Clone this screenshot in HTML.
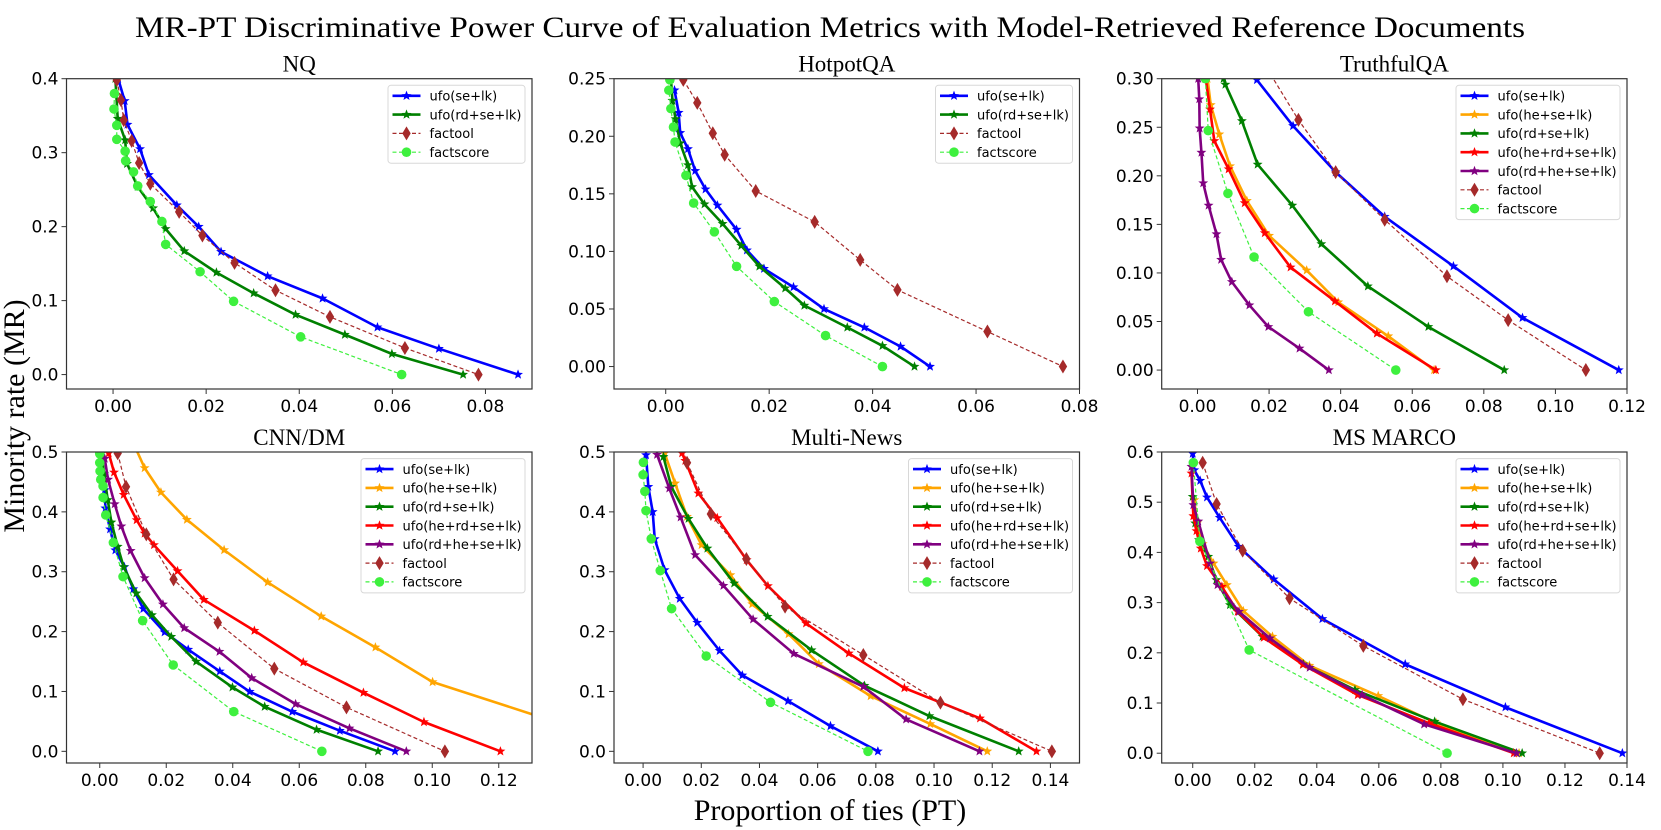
<!DOCTYPE html>
<html><head><meta charset="utf-8">
<style>
html,body{margin:0;padding:0;background:#fff;}
svg{display:block;}
</style></head>
<body>
<svg id="fig" xmlns="http://www.w3.org/2000/svg" width="1661" height="830" viewBox="0 0 1661 830">
<rect x="0" y="0" width="1661" height="830" fill="#fff"/>
<text x="830" y="37" text-anchor="middle" font-family="Liberation Serif, serif" font-size="30" textLength="1390" lengthAdjust="spacingAndGlyphs">MR-PT Discriminative Power Curve of Evaluation Metrics with Model-Retrieved Reference Documents</text>
<text x="0" y="0" transform="translate(24,416) rotate(-90)" text-anchor="middle" font-family="Liberation Serif, serif" font-size="30">Minority rate (MR)</text>
<text x="830" y="820" text-anchor="middle" font-family="Liberation Serif, serif" font-size="30">Proportion of ties (PT)</text>
<g id="panels"></g>
</svg>
<script>
// ---------- data ----------
const seriesNames = ["ufo(se+lk)","ufo(he+se+lk)","ufo(rd+se+lk)","ufo(he+rd+se+lk)","ufo(rd+he+se+lk)","factool","factscore"];
const panelTitles = ["NQ","HotpotQA","TruthfulQA","CNN/DM","Multi-News","MS MARCO"];

// NQ
const nq_se_x = [0.0011,0.0025,0.0031,0.0058,0.0077,0.0137,0.0184,0.0232,0.0332,0.045,0.0568,0.070,0.087];
const nq_se_y = [0.40,0.37,0.338,0.305,0.27,0.229,0.200,0.166,0.133,0.103,0.064,0.035,0];
const nq_rd_x = [0.0005,0.001,0.0026,0.003,0.0053,0.0086,0.0113,0.0153,0.0222,0.0302,0.0392,0.0498,0.0599,0.0752];
const nq_rd_y = [0.40,0.346,0.317,0.285,0.254,0.225,0.197,0.167,0.138,0.110,0.081,0.054,0.028,0];
const nq_ft_x = [0.0008,0.0017,0.0023,0.004,0.0056,0.008,0.0142,0.0192,0.0261,0.0349,0.0466,0.0627,0.0785];
const nq_ft_y = [0.398,0.371,0.344,0.316,0.286,0.258,0.22,0.188,0.151,0.114,0.078,0.036,0];
const nq_fs_x = [0.0003,0.0002,0.0008,0.0008,0.0026,0.0027,0.0044,0.0053,0.008,0.0105,0.0113,0.0187,0.0259,0.0403,0.062];
const nq_fs_y = [0.38,0.359,0.337,0.318,0.302,0.289,0.274,0.255,0.234,0.207,0.176,0.139,0.099,0.051,0];

// HotpotQA
const hp_se_x = [0.0017,0.0025,0.0028,0.0043,0.0057,0.0077,0.01,0.0137,0.0157,0.019,0.0247,0.0306,0.0384,0.0454,0.0511];
const hp_se_y = [0.240,0.2205,0.203,0.189,0.170,0.154,0.140,0.119,0.101,0.085,0.069,0.050,0.034,0.0174,0];
const hp_rd_x = [0.001,0.0013,0.0019,0.0028,0.0043,0.0051,0.0075,0.011,0.0146,0.0181,0.0231,0.0268,0.0351,0.0419,0.0481];
const hp_rd_y = [0.25,0.231,0.215,0.194,0.175,0.156,0.141,0.124,0.105,0.087,0.068,0.053,0.034,0.018,0];
const hp_ft_x = [0.0034,0.0061,0.0091,0.0114,0.0174,0.0288,0.0376,0.0448,0.0622,0.0768];
const hp_ft_y = [0.249,0.229,0.2026,0.184,0.1525,0.1256,0.0926,0.0666,0.0304,0];
const hp_fs_x = [0.0008,0.0006,0.001,0.0015,0.0018,0.0039,0.0054,0.0094,0.0137,0.021,0.0309,0.0419];
const hp_fs_y = [0.249,0.240,0.224,0.208,0.195,0.166,0.142,0.117,0.087,0.0564,0.0269,0];

// TruthfulQA
const tq_se_x = [0.0155,0.0166,0.0267,0.0386,0.0523,0.0715,0.0908,0.1177];
const tq_se_y = [0.31,0.2987,0.2514,0.2038,0.158,0.1069,0.0538,0];
const tq_he_x = [0.0028,0.0037,0.0061,0.0091,0.0138,0.02,0.0305,0.0393,0.0533,0.0661];
const tq_he_y = [0.30,0.273,0.2428,0.210,0.1743,0.1384,0.1027,0.0699,0.0349,0];
const tq_rd_x = [0.0073,0.0078,0.0124,0.0168,0.0265,0.0346,0.0476,0.0645,0.0857];
const tq_rd_y = [0.30,0.294,0.2565,0.2117,0.1695,0.1298,0.0863,0.0445,0];
const tq_herd_x = [0.0023,0.0035,0.0047,0.0087,0.0132,0.0188,0.026,0.0384,0.0501,0.0666];
const tq_herd_y = [0.30,0.2685,0.236,0.2069,0.172,0.1411,0.1058,0.0709,0.0377,0];
const tq_rdhe_x = [0.0002,0.0005,0.0006,0.0011,0.0016,0.0031,0.0053,0.0066,0.0096,0.0145,0.0198,0.0285,0.0367];
const tq_rdhe_y = [0.30,0.279,0.249,0.224,0.1925,0.1695,0.14,0.1137,0.0908,0.0668,0.0445,0.0223,0];
const tq_ft_x = [0.0195,0.0282,0.0386,0.0523,0.0697,0.0868,0.1085];
const tq_ft_y = [0.31,0.2576,0.2038,0.1548,0.0966,0.0514,0];
const tq_fs_x = [0.0022,0.003,0.0085,0.0158,0.031,0.0554];
const tq_fs_y = [0.30,0.2466,0.1819,0.1164,0.06,0];

// CNN/DM
const cd_se_x = [0.0005,0.001,0.0015,0.0017,0.0031,0.0047,0.0074,0.0101,0.0131,0.0195,0.0266,0.0361,0.0451,0.0579,0.0722,0.0888];
const cd_se_y = [0.498,0.464,0.4365,0.406,0.371,0.336,0.308,0.271,0.238,0.199,0.170,0.1336,0.0997,0.0663,0.0345,0];
const cd_he_x = [0.0105,0.0135,0.0184,0.0262,0.0374,0.0505,0.0666,0.0829,0.1001,0.14];
const cd_he_y = [0.51,0.4733,0.4326,0.387,0.3363,0.2823,0.2255,0.1737,0.1158,0.044];
const cd_rd_x = [0.0005,0.0013,0.0024,0.0035,0.0054,0.0072,0.011,0.0157,0.0215,0.029,0.0399,0.0496,0.0652,0.0837];
const cd_rd_y = [0.498,0.464,0.42,0.3825,0.342,0.308,0.264,0.2277,0.1915,0.150,0.107,0.0746,0.0362,0];
const cd_herd_x = [0.0027,0.0043,0.0072,0.0111,0.0135,0.0163,0.0234,0.0313,0.0465,0.0612,0.0793,0.0975,0.1205];
const cd_herd_y = [0.498,0.466,0.4287,0.3864,0.364,0.3447,0.3012,0.2533,0.2016,0.1487,0.098,0.049,0];
const cd_rdhe_x = [0.0015,0.0025,0.0045,0.0065,0.0093,0.0135,0.019,0.0254,0.036,0.0457,0.0589,0.0751,0.0922];
const cd_rdhe_y = [0.489,0.454,0.413,0.376,0.335,0.2895,0.2456,0.206,0.1665,0.1225,0.079,0.0384,0];
const cd_ft_x = [0.0054,0.0079,0.014,0.0222,0.0355,0.0525,0.0742,0.1038];
const cd_ft_y = [0.498,0.442,0.3625,0.2873,0.2149,0.1381,0.0735,0];
const cd_fs_x = [0.0,0.0,0.0001,0.0003,0.001,0.001,0.0018,0.0041,0.007,0.0129,0.0221,0.0403,0.0668];
const cd_fs_y = [0.497,0.482,0.468,0.454,0.443,0.424,0.3948,0.3486,0.2918,0.2183,0.1442,0.0663,0];

// Multi-News
const mn_se_x = [0.001,0.0018,0.0033,0.004,0.0074,0.0126,0.0186,0.0263,0.0341,0.0498,0.0644,0.0807];
const mn_se_y = [0.495,0.442,0.400,0.3547,0.3029,0.255,0.215,0.168,0.127,0.084,0.0423,0];
const mn_he_x = [0.0074,0.011,0.0151,0.0201,0.03,0.0375,0.05,0.0604,0.0782,0.0987,0.1183];
const mn_he_y = [0.498,0.4477,0.392,0.3447,0.2945,0.246,0.196,0.1459,0.0924,0.0457,0];
const mn_rd_x = [0.007,0.0097,0.0156,0.0221,0.0313,0.0428,0.0579,0.0761,0.0984,0.1291];
const mn_rd_y = [0.492,0.442,0.3886,0.339,0.2806,0.225,0.169,0.1097,0.059,0];
const mn_herd_x = [0.0134,0.0145,0.019,0.0255,0.0356,0.0429,0.056,0.0707,0.0898,0.1158,0.1352];
const mn_herd_y = [0.498,0.4855,0.431,0.3898,0.3196,0.2762,0.2138,0.1637,0.1058,0.0551,0];
const mn_rdhe_x = [0.0048,0.009,0.0129,0.0179,0.0276,0.0378,0.0518,0.0757,0.0904,0.1156];
const mn_rdhe_y = [0.4956,0.4393,0.3909,0.328,0.2767,0.2205,0.1631,0.108,0.0535,0];
const mn_ft_x = [0.0151,0.0233,0.0355,0.0488,0.0757,0.1022,0.1405];
const mn_ft_y = [0.482,0.3964,0.3213,0.2417,0.161,0.0813,0];
const mn_fs_x = [0.0001,0.0,0.0006,0.001,0.0028,0.0059,0.0098,0.0217,0.0438,0.0773];
const mn_fs_y = [0.4827,0.462,0.4343,0.402,0.355,0.3018,0.2383,0.1592,0.0818,0];

// MS MARCO
const mm_se_x = [0.0,0.0005,0.0024,0.0046,0.0087,0.0148,0.0261,0.0418,0.0685,0.1008,0.1385];
const mm_se_y = [0.597,0.564,0.543,0.5097,0.4692,0.4115,0.3465,0.2675,0.1772,0.0916,0];
const mm_he_x = [0.0005,0.0014,0.0032,0.0067,0.011,0.0163,0.0257,0.0376,0.0598,0.0785,0.1052];
const mm_he_y = [0.5044,0.458,0.4168,0.3783,0.3352,0.2834,0.2323,0.1746,0.1142,0.0597,0];
const mm_rd_x = [0.0,0.0008,0.002,0.005,0.0076,0.012,0.0225,0.0357,0.0523,0.078,0.1062];
const mm_rd_y = [0.511,0.458,0.4248,0.3916,0.3451,0.2953,0.2323,0.1772,0.1261,0.063,0];
const mm_herd_x = [-0.0004,0.0002,0.0012,0.0026,0.0046,0.0094,0.0145,0.0229,0.0355,0.0532,0.0762,0.1035];
const mm_herd_y = [0.5575,0.4725,0.4427,0.408,0.373,0.3318,0.282,0.2303,0.1765,0.1161,0.0597,0];
const mm_rdhe_x = [-0.0004,0.0002,0.0018,0.0056,0.008,0.0149,0.0249,0.0377,0.0546,0.0746,0.1044];
const mm_rdhe_y = [0.5708,0.4945,0.4619,0.3783,0.3352,0.282,0.229,0.1706,0.1161,0.0577,0];
const mm_ft_x = [0.0032,0.0077,0.0161,0.0312,0.055,0.0871,0.1312];
const mm_ft_y = [0.5787,0.4964,0.4035,0.3086,0.2137,0.1075,0];
const mm_fs_x = [0.0002,0.0023,0.0182,0.082];
const mm_fs_y = [0.5787,0.4221,0.2057,0];

// ticks
const xTicksA = ["0.00","0.02","0.04","0.06","0.08"];
const xTicksB = ["0.00","0.02","0.04","0.06","0.08","0.10","0.12"];
const xTicksC = ["0.00","0.02","0.04","0.06","0.08","0.10","0.12","0.14"];
const yTicksNQ = ["0.0","0.1","0.2","0.3","0.4"];
const yTicksHP = ["0.00","0.05","0.10","0.15","0.20","0.25"];
const yTicksTQ = ["0.00","0.05","0.10","0.15","0.20","0.25","0.30"];
const yTicksCD = ["0.0","0.1","0.2","0.3","0.4","0.5"];
const yTicksMM = ["0.0","0.1","0.2","0.3","0.4","0.5","0.6"];
const xLimits = [[-0.01,0.09],[-0.01,0.08],[-0.01,0.12],[-0.01,0.13],[-0.01,0.15],[-0.01,0.14]];
const yLimits = [[-0.0195,0.4],[-0.0195,0.25],[-0.0195,0.30],[-0.0195,0.5],[-0.0195,0.5],[-0.0195,0.6]];

// ---------- styles / layout ----------
const styles = [
 {c:"#0000ff",w:2.6,dash:null,m:"star"},
 {c:"#ffa500",w:2.6,dash:null,m:"star"},
 {c:"#008000",w:2.6,dash:null,m:"star"},
 {c:"#ff0000",w:2.6,dash:null,m:"star"},
 {c:"#800080",w:2.6,dash:null,m:"star"},
 {c:"#a52a2a",w:1.2,dash:"4,2.5",m:"diamond"},
 {c:"#3ef03e",w:1.2,dash:"4,2.5",m:"circle"}
];
const boxes = [[66.5,78.7,532,389],[614,78.7,1079.5,389],[1161.7,78.7,1627,389],
               [66.5,452,532,763],[614,452,1079.5,763],[1161.7,452,1627,763]];
const panels = [
 {xt:xTicksA, yt:yTicksNQ, s:[[0,nq_se_x,nq_se_y],[2,nq_rd_x,nq_rd_y],[5,nq_ft_x,nq_ft_y],[6,nq_fs_x,nq_fs_y]]},
 {xt:xTicksA, yt:yTicksHP, s:[[0,hp_se_x,hp_se_y],[2,hp_rd_x,hp_rd_y],[5,hp_ft_x,hp_ft_y],[6,hp_fs_x,hp_fs_y]]},
 {xt:xTicksB, yt:yTicksTQ, s:[[0,tq_se_x,tq_se_y],[1,tq_he_x,tq_he_y],[2,tq_rd_x,tq_rd_y],[3,tq_herd_x,tq_herd_y],[4,tq_rdhe_x,tq_rdhe_y],[5,tq_ft_x,tq_ft_y],[6,tq_fs_x,tq_fs_y]]},
 {xt:xTicksB, yt:yTicksCD, s:[[0,cd_se_x,cd_se_y],[1,cd_he_x,cd_he_y],[2,cd_rd_x,cd_rd_y],[3,cd_herd_x,cd_herd_y],[4,cd_rdhe_x,cd_rdhe_y],[5,cd_ft_x,cd_ft_y],[6,cd_fs_x,cd_fs_y]]},
 {xt:xTicksC, yt:yTicksCD, s:[[0,mn_se_x,mn_se_y],[1,mn_he_x,mn_he_y],[2,mn_rd_x,mn_rd_y],[3,mn_herd_x,mn_herd_y],[4,mn_rdhe_x,mn_rdhe_y],[5,mn_ft_x,mn_ft_y],[6,mn_fs_x,mn_fs_y]]},
 {xt:xTicksC, yt:yTicksMM, s:[[0,mm_se_x,mm_se_y],[1,mm_he_x,mm_he_y],[2,mm_rd_x,mm_rd_y],[3,mm_herd_x,mm_herd_y],[4,mm_rdhe_x,mm_rdhe_y],[5,mm_ft_x,mm_ft_y],[6,mm_fs_x,mm_fs_y]]}
];

const NS="http://www.w3.org/2000/svg";
function mk(tag, parent){ const e=document.createElementNS(NS,tag); parent.appendChild(e); return e; }
function slug(s){ return s.toLowerCase().replace(/[^a-z0-9]+/g,"-").replace(/^-|-$/g,""); }

function drawMarker(g, kind, px, py, col, scale){
  let e;
  if(kind==="star"){
    const R=5.2*scale, r=2.2*scale; let pts=[];
    for(let k=0;k<10;k++){ const a=-Math.PI/2+k*Math.PI/5; const rr=k%2?r:R; pts.push((px+rr*Math.cos(a)).toFixed(2)+","+(py+rr*Math.sin(a)).toFixed(2)); }
    e=mk("polygon",g); e.setAttribute("points",pts.join(" "));
  } else if(kind==="diamond"){
    const w=4.2*scale,h=7*scale;
    e=mk("polygon",g); e.setAttribute("points",`${px},${py-h} ${px+w},${py} ${px},${py+h} ${px-w},${py}`);
  } else {
    e=mk("circle",g); e.setAttribute("cx",px); e.setAttribute("cy",py); e.setAttribute("r",4.8*scale);
  }
  e.setAttribute("fill",col);
  
  
  return e;
}

const root=document.getElementById("panels");
panels.forEach((p,i)=>{
  const [L,T,R,B]=boxes[i];
  const [x0,x1]=xLimits[i], [y0,y1]=yLimits[i];
  const sx=v=>L+(v-x0)/(x1-x0)*(R-L);
  const sy=v=>B-(v-y0)/(y1-y0)*(B-T);
  const key=slug(panelTitles[i]);
  const g=mk("g",root);
  
  
  const defs=mk("defs",g);
  const cp=mk("clipPath",defs); cp.setAttribute("id","clip"+i);
  const cr=mk("rect",cp); cr.setAttribute("x",L); cr.setAttribute("y",T); cr.setAttribute("width",R-L); cr.setAttribute("height",B-T);

  const title=mk("text",g);
  title.setAttribute("x",(L+R)/2); title.setAttribute("y",T-7);
  title.setAttribute("text-anchor","middle");
  title.setAttribute("font-family","Liberation Serif, serif"); title.setAttribute("font-size","23");
  title.textContent=panelTitles[i];
  
  

  const xg=mk("g",g);
  
  
  p.xt.forEach(t=>{
    const v=parseFloat(t), X=sx(v);
    const ln=mk("line",xg); ln.setAttribute("x1",X); ln.setAttribute("x2",X); ln.setAttribute("y1",B); ln.setAttribute("y2",B+5); ln.setAttribute("stroke","#333"); ln.setAttribute("stroke-width","1");
    
    
    const tx=mk("text",xg); tx.setAttribute("x",X); tx.setAttribute("y",B+23); tx.setAttribute("text-anchor","middle");
    tx.setAttribute("font-family","DejaVu Sans, sans-serif"); tx.setAttribute("font-size","17"); tx.textContent=t;
    
    
  });
  const yg=mk("g",g);
  
  
  p.yt.forEach(t=>{
    const v=parseFloat(t), Y=sy(v);
    const ln=mk("line",yg); ln.setAttribute("x1",L-5); ln.setAttribute("x2",L); ln.setAttribute("y1",Y); ln.setAttribute("y2",Y); ln.setAttribute("stroke","#333"); ln.setAttribute("stroke-width","1");
    
    
    const tx=mk("text",yg); tx.setAttribute("x",L-8); tx.setAttribute("y",Y+6); tx.setAttribute("text-anchor","end");
    tx.setAttribute("font-family","DejaVu Sans, sans-serif"); tx.setAttribute("font-size","17"); tx.textContent=t;
    
    
  });

  const sg=mk("g",g); sg.setAttribute("clip-path",`url(#clip${i})`);
  
  
  p.s.forEach(([si,xs,ys])=>{
    const st=styles[si];
    const sgg=mk("g",sg);
    
    
    const pl=mk("polyline",sgg);
    pl.setAttribute("points",xs.map((x,k)=>sx(x).toFixed(2)+","+sy(ys[k]).toFixed(2)).join(" "));
    pl.setAttribute("fill","none"); pl.setAttribute("stroke",st.c); pl.setAttribute("stroke-width",st.w);
    pl.setAttribute("stroke-linejoin","round");
    if(st.dash) pl.setAttribute("stroke-dasharray",st.dash);
    
    
    xs.forEach((x,k)=>drawMarker(sgg,st.m,sx(x),sy(ys[k]),st.c,1));
  });

  const fr=mk("rect",g); fr.setAttribute("x",L); fr.setAttribute("y",T); fr.setAttribute("width",R-L); fr.setAttribute("height",B-T);
  fr.setAttribute("fill","none"); fr.setAttribute("stroke","#333"); fr.setAttribute("stroke-width","1.2");
  
  

  const n=p.s.length;
  const lw = n>4 ? 164 : 137;
  const lx=R-7-lw, ly=T+6.6;
  const lg=mk("g",g);
  
  
  const lb=mk("rect",lg); lb.setAttribute("x",lx); lb.setAttribute("y",ly); lb.setAttribute("width",lw); lb.setAttribute("height",10.5+(n-1)*18.8+11);
  lb.setAttribute("rx","3"); lb.setAttribute("fill","#fff"); lb.setAttribute("fill-opacity","0.85"); lb.setAttribute("stroke","#d8d8d8"); lb.setAttribute("stroke-width","1");
  
  
  p.s.forEach(([si],k)=>{
    const st=styles[si], cy=ly+10.5+k*18.8;
    const eg=mk("g",lg);
    
    
    const ln=mk("line",eg); ln.setAttribute("x1",lx+4.5); ln.setAttribute("x2",lx+32.5); ln.setAttribute("y1",cy); ln.setAttribute("y2",cy);
    ln.setAttribute("stroke",st.c); ln.setAttribute("stroke-width",st.w); if(st.dash) ln.setAttribute("stroke-dasharray",st.dash);
    
    
    drawMarker(eg,st.m,lx+18.5,cy,st.c,1);
    const tx=mk("text",eg); tx.setAttribute("x",lx+41.5); tx.setAttribute("y",cy+4.8);
    tx.setAttribute("font-family","DejaVu Sans, sans-serif"); tx.setAttribute("font-size","13"); tx.textContent=seriesNames[si];
    
    
  });
});
</script>
</body></html>
